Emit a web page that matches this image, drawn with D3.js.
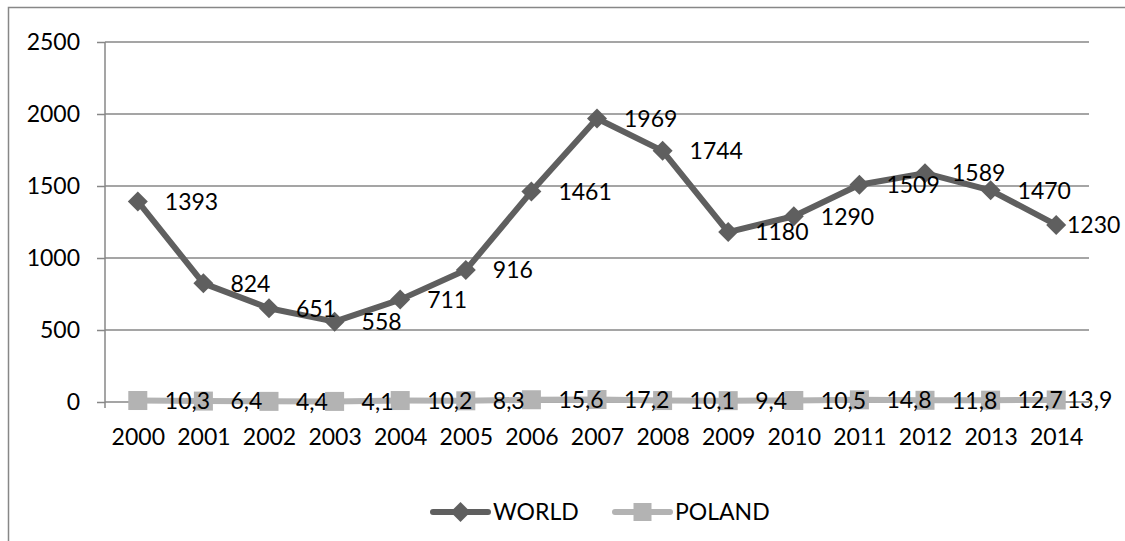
<!DOCTYPE html>
<html>
<head>
<meta charset="utf-8">
<script src="https://cdn.jsdelivr.net/npm/d3@7"></script>
<style>
  html, body { margin: 0; padding: 0; background: #fff; }
  svg { display: block; }
  text { font-family: Lato, "Open Sans", sans-serif; fill: #000; }
</style>
</head>
<body>
<svg id="chart" width="1125" height="541"></svg>
<script>
// Yearly values for the two series
const years = ["2000","2001","2002","2003","2004","2005","2006","2007","2008","2009","2010","2011","2012","2013","2014"];
const world = [1393, 824, 651, 558, 711, 916, 1461, 1969, 1744, 1180, 1290, 1509, 1589, 1470, 1230];
const poland = [10.3, 6.4, 4.4, 4.1, 10.2, 8.3, 15.6, 17.2, 10.1, 9.4, 10.5, 14.8, 11.8, 12.7, 13.9];
const yTicks = [0, 500, 1000, 1500, 2000, 2500];
const seriesNames = ["WORLD", "POLAND"];

const svg = d3.select("#chart");
const plot = { left: 105, right: 1089, top: 42, bottom: 402 };
const fontSize = 23;
const worldColor = "#5f5f5f";
const polandColor = "#b3b3b3";
const gridColor = "#878787";

const x = d3.scalePoint().domain(years).range([plot.left, plot.right]).padding(0.5);
const y = d3.scaleLinear().domain([0, 2500]).range([plot.bottom, plot.top]);

// outer chart border (runs past the right and bottom edges)
svg.append("rect")
  .attr("x", 8.5).attr("y", 7.5).attr("width", 1300).attr("height", 700)
  .attr("fill", "none").attr("stroke", gridColor).attr("stroke-width", 1.5);

// horizontal gridlines and y ticks
const yAxis = d3.axisLeft(y).tickValues(yTicks).tickFormat(d3.format("d")).tickSize(8).tickPadding(17);
const yG = svg.append("g").attr("transform", `translate(${plot.left},0)`).call(yAxis);
yG.select(".domain").remove();
yG.selectAll(".tick line").attr("stroke", gridColor).attr("stroke-width", 1.5);
yG.selectAll(".tick text").style("font-size", fontSize + "px").attr("font-family", null);

svg.append("g").selectAll("line").data(yTicks).join("line")
  .attr("x1", plot.left).attr("x2", plot.right)
  .attr("y1", d => y(d)).attr("y2", d => y(d))
  .attr("stroke", gridColor).attr("stroke-width", 1.5);

// vertical axis line
svg.append("line")
  .attr("x1", plot.left).attr("x2", plot.left)
  .attr("y1", plot.top).attr("y2", plot.bottom + 6)
  .attr("stroke", gridColor).attr("stroke-width", 1.5);

// category labels
const xAxis = d3.axisBottom(x).tickSize(0).tickPadding(27);
const xG = svg.append("g").attr("transform", `translate(0,${plot.bottom})`).call(xAxis);
xG.select(".domain").remove();
xG.selectAll(".tick text").style("font-size", fontSize + "px").attr("font-family", null);

const line = d3.line().x((d, i) => x(years[i])).y(d => y(d));

// POLAND series
svg.append("path").datum(poland)
  .attr("d", line).attr("fill", "none")
  .attr("stroke", polandColor).attr("stroke-width", 6).attr("stroke-linejoin", "round");
svg.append("g").selectAll("rect").data(poland).join("rect")
  .attr("x", (d, i) => x(years[i]) - 9.5).attr("y", d => y(d) - 9.5)
  .attr("width", 19).attr("height", 19).attr("fill", polandColor);

// WORLD series
const diamond = d3.symbol().type(d3.symbolSquare).size(200);
svg.append("path").datum(world)
  .attr("d", line).attr("fill", "none")
  .attr("stroke", worldColor).attr("stroke-width", 6).attr("stroke-linejoin", "round");
svg.append("g").selectAll("path").data(world).join("path")
  .attr("d", diamond)
  .attr("transform", (d, i) => `translate(${x(years[i])},${y(d)}) rotate(45)`)
  .attr("fill", worldColor);

// value labels, to the right of each point, kept inside the chart
const labelX = (i) => Math.min(x(years[i]) + 27, 1067);
const fmtComma = d => String(d).replace(".", ",");

svg.append("g").selectAll("text").data(poland).join("text")
  .attr("x", (d, i) => labelX(i)).attr("y", d => y(d))
  .attr("dy", "0.36em").style("font-size", fontSize + "px")
  .text(d => fmtComma(d.toFixed(1)));

svg.append("g").selectAll("text").data(world).join("text")
  .attr("x", (d, i) => labelX(i)).attr("y", d => y(d))
  .attr("dy", "0.36em").style("font-size", fontSize + "px")
  .text(d => d);

// legend
const legend = svg.append("g");
const legendItems = [
  { name: seriesNames[0], color: worldColor, x0: 433, shape: "diamond" },
  { name: seriesNames[1], color: polandColor, x0: 615, shape: "square" }
];
const ly = 512;
legendItems.forEach(it => {
  legend.append("line")
    .attr("x1", it.x0).attr("x2", it.x0 + 55).attr("y1", ly).attr("y2", ly)
    .attr("stroke", it.color).attr("stroke-width", 6).attr("stroke-linecap", "round");
  if (it.shape === "diamond") {
    legend.append("path").attr("d", diamond)
      .attr("transform", `translate(${it.x0 + 27.5},${ly}) rotate(45)`)
      .attr("fill", it.color);
  } else {
    legend.append("rect")
      .attr("x", it.x0 + 27.5 - 9).attr("y", ly - 9).attr("width", 18).attr("height", 18)
      .attr("fill", it.color);
  }
  legend.append("text")
    .attr("x", it.x0 + 60).attr("y", ly).attr("dy", "0.36em")
    .style("font-size", fontSize + "px").text(it.name);
});
</script>
</body>
</html>
